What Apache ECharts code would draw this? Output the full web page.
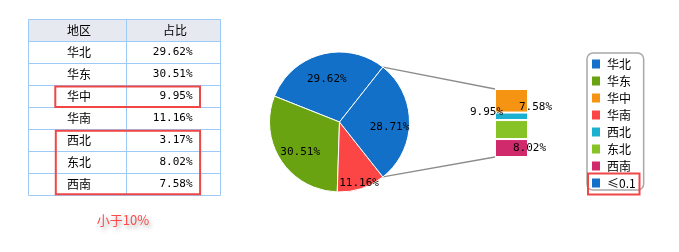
<!DOCTYPE html>
<html><head><meta charset="utf-8">
<script src="https://cdn.jsdelivr.net/npm/echarts@6/dist/echarts.min.js"></script>
<style>html,body{margin:0;padding:0;background:#fff}#c{width:679px;height:252px}</style>
</head><body><div id="c"></div>
<script>
// ---- data ----
const tableHeader = ['地区', '占比'];
const regions = ['华北', '华东', '华中', '华南', '西北', '东北', '西南'];
const shares = [29.62, 30.51, 9.95, 11.16, 3.17, 8.02, 7.58];
const pieNames = ['华北', '华东', '华南', '≤0.1'];
const pieValues = [29.62, 30.51, 11.16, 28.71];
const barNames = ['华中', '西北', '东北', '西南'];
const barValues = [9.95, 3.17, 8.02, 7.58];
const legendNames = ['华北', '华东', '华中', '华南', '西北', '东北', '西南', '≤0.1'];
const noteText = '小于10%';

// ---- style ----
const colors = {
  '华北': '#1270c9', '华东': '#6aa312', '华中': '#f59312', '华南': '#fc4646',
  '西北': '#1cb0d0', '东北': '#87c226', '西南': '#d12a6c', '≤0.1': '#1270c9'
};
const CJK = '"Noto Sans CJK SC", sans-serif';
const MONO = '"DejaVu Sans Mono", "Liberation Mono", monospace';
const pieCenter = [339.5, 122], pieR = 70;
const barGrid = { left: 495, top: 89, width: 33, height: 68 };
const fmt = v => Number(v).toFixed(2) + '%';
const pieLabelShift = [{ dx: 0.5, dy: 4 }, { dx: 2.5, dy: 0.5 }, { dx: 1.5, dy: 5.5 }, { dx: -1.5, dy: 2.5 }];

const pieTotal = pieValues.reduce((a, b) => a + b, 0);
const otherVal = pieValues[pieValues.length - 1];
const startAngle = otherVal / pieTotal * 180;
const barSum = barValues.reduce((a, b) => a + b, 0);

const barLabelCfg = {
  '华中': { show: true, position: [8, '100%'], align: 'right', verticalAlign: 'middle' },
  '西北': { show: false },
  '东北': { show: true, position: [18, 28], align: 'left', verticalAlign: 'middle' },
  '西南': { show: true, position: [24, -32], align: 'left', verticalAlign: 'middle' }
};

const chart = echarts.init(document.getElementById('c'), null, { renderer: 'canvas' });

const pieData = pieNames.map((n, i) => ({ name: n, value: pieValues[i], itemStyle: { color: colors[n] } }));

const option = {
  animation: false,
  backgroundColor: '#fff',
  legend: {
    orient: 'vertical', left: 587, top: 53,
    data: legendNames,
    itemWidth: 8, itemHeight: 9, itemGap: 5,
    icon: 'rect',
    itemStyle: { borderWidth: 0 },
    padding: [5, 8, 1, 5],
    borderColor: '#a8a8a8', borderWidth: 1.5, borderRadius: 6,
    textStyle: { fontSize: 12, fontFamily: CJK, color: '#000', padding: [0, 0, 0, 2] },
    selectedMode: false
  },
  grid: { left: barGrid.left, top: barGrid.top, width: barGrid.width, height: barGrid.height, show: false },
  xAxis: { type: 'category', data: ['小'], show: false },
  yAxis: { type: 'value', min: 0, max: barSum, inverse: true, show: false },
  series: [
    {
      type: 'pie', name: 'main', center: pieCenter, radius: pieR,
      clockwise: false, startAngle: startAngle,
      data: pieData, label: { show: false }, labelLine: { show: false },
      itemStyle: { borderColor: '#fff', borderWidth: 1 },
      emphasis: { disabled: true }, silent: true
    },
    {
      type: 'pie', name: 'labels', center: pieCenter, radius: [30, pieR],
      clockwise: false, startAngle: startAngle, z: 5,
      data: pieNames.map((n, i) => ({ name: n, value: pieValues[i] })),
      itemStyle: { color: 'rgba(0,0,0,0)', borderWidth: 0 },
      label: { show: true, position: 'inside', color: '#000', fontSize: 11, fontFamily: MONO,
        formatter: p => fmt(p.value) },
      labelLine: { show: false },
      labelLayout: p => pieLabelShift[p.dataIndex],
      emphasis: { disabled: true }, silent: true
    },
    ...barNames.map((n, i) => ({
      type: 'bar', name: n, stack: 'small', barWidth: '100%',
      data: [barValues[i]],
      itemStyle: { color: colors[n], borderColor: '#fff', borderWidth: 1 },
      label: Object.assign({ color: '#000', fontSize: 11, fontFamily: MONO, formatter: p => fmt(p.value) }, barLabelCfg[n]),
      emphasis: { disabled: true }, silent: true
    }))
  ]
};
chart.setOption(option);

// ---- table & annotations (graphic) ----
const tX = 28.5, tY = 19.5, c1 = 98, c2 = 94, rowH = 22;
const g = [];
const nRows = regions.length + 1;
const gridLine = '#9ccbf7';
g.push({ type: 'rect', shape: { x: tX, y: tY, width: c1 + c2, height: rowH }, style: { fill: '#e6e9f0' }, silent: true });
for (let i = 0; i <= nRows; i++) {
  g.push({ type: 'line', shape: { x1: tX, y1: tY + i * rowH, x2: tX + c1 + c2, y2: tY + i * rowH }, style: { stroke: gridLine, lineWidth: 1 }, silent: true });
}
[tX, tX + c1, tX + c1 + c2].forEach(x => {
  g.push({ type: 'line', shape: { x1: x, y1: tY, x2: x, y2: tY + nRows * rowH }, style: { stroke: gridLine, lineWidth: 1 }, silent: true });
});
g.push({ type: 'text', x: 67, y: tY + rowH / 2, style: { text: tableHeader[0], fontSize: 12, fontFamily: CJK, fill: '#000', align: 'left', verticalAlign: 'middle' }, silent: true });
g.push({ type: 'text', x: 175, y: tY + rowH / 2, style: { text: tableHeader[1], fontSize: 12, fontFamily: CJK, fill: '#000', align: 'center', verticalAlign: 'middle' }, silent: true });
regions.forEach((r, i) => {
  const cy = tY + (i + 1) * rowH + rowH / 2;
  g.push({ type: 'text', x: 67, y: cy, style: { text: r, fontSize: 12, fontFamily: CJK, fill: '#000', align: 'left', verticalAlign: 'middle' }, silent: true });
  g.push({ type: 'text', x: 192.5, y: cy, style: { text: fmt(shares[i]), fontSize: 11, fontFamily: MONO, fill: '#000', align: 'right', verticalAlign: 'middle' }, silent: true });
});
// red highlight boxes
const red = '#f04646';
g.push({ type: 'rect', shape: { x: 55.3, y: 86.5, width: 144.7, height: 20.5 }, style: { fill: 'none', stroke: red, lineWidth: 2 }, silent: true, z: 10 });
g.push({ type: 'rect', shape: { x: 55.8, y: 130.8, width: 144.3, height: 63.5 }, style: { fill: 'none', stroke: red, lineWidth: 2 }, silent: true, z: 10 });
g.push({ type: 'rect', shape: { x: 588, y: 173.5, width: 51.5, height: 21 }, style: { fill: 'none', stroke: red, lineWidth: 2 }, silent: true, z: 10 });
g.push({ type: 'text', x: 123, y: 220, style: { text: noteText, fontSize: 13, fontFamily: CJK, fill: '#ff4a4a', align: 'center', verticalAlign: 'middle',
  textShadowColor: 'rgba(0,0,0,0.35)', textShadowBlur: 4, textShadowOffsetX: 2, textShadowOffsetY: 3 }, silent: true });

// connector lines from pie "other" slice edges to the bar stack corners
const ang = startAngle * Math.PI / 180;
const px = pieCenter[0] + pieR * Math.cos(ang);
const pyTop = pieCenter[1] - pieR * Math.sin(ang);
const pyBot = pieCenter[1] + pieR * Math.sin(ang);
const rect = chart.getModel().getComponent('grid', 0).coordinateSystem.getRect();
const barTop = chart.convertToPixel({ yAxisIndex: 0 }, 0);
const barBot = chart.convertToPixel({ yAxisIndex: 0 }, barSum);
g.push({ type: 'line', shape: { x1: px, y1: pyTop, x2: rect.x, y2: barTop }, style: { stroke: '#8c8c8c', lineWidth: 1.3 }, silent: true });
g.push({ type: 'line', shape: { x1: px, y1: pyBot, x2: rect.x, y2: barBot }, style: { stroke: '#8c8c8c', lineWidth: 1.3 }, silent: true });

option.graphic = g;
chart.setOption(option, true);
</script>
</body></html>
